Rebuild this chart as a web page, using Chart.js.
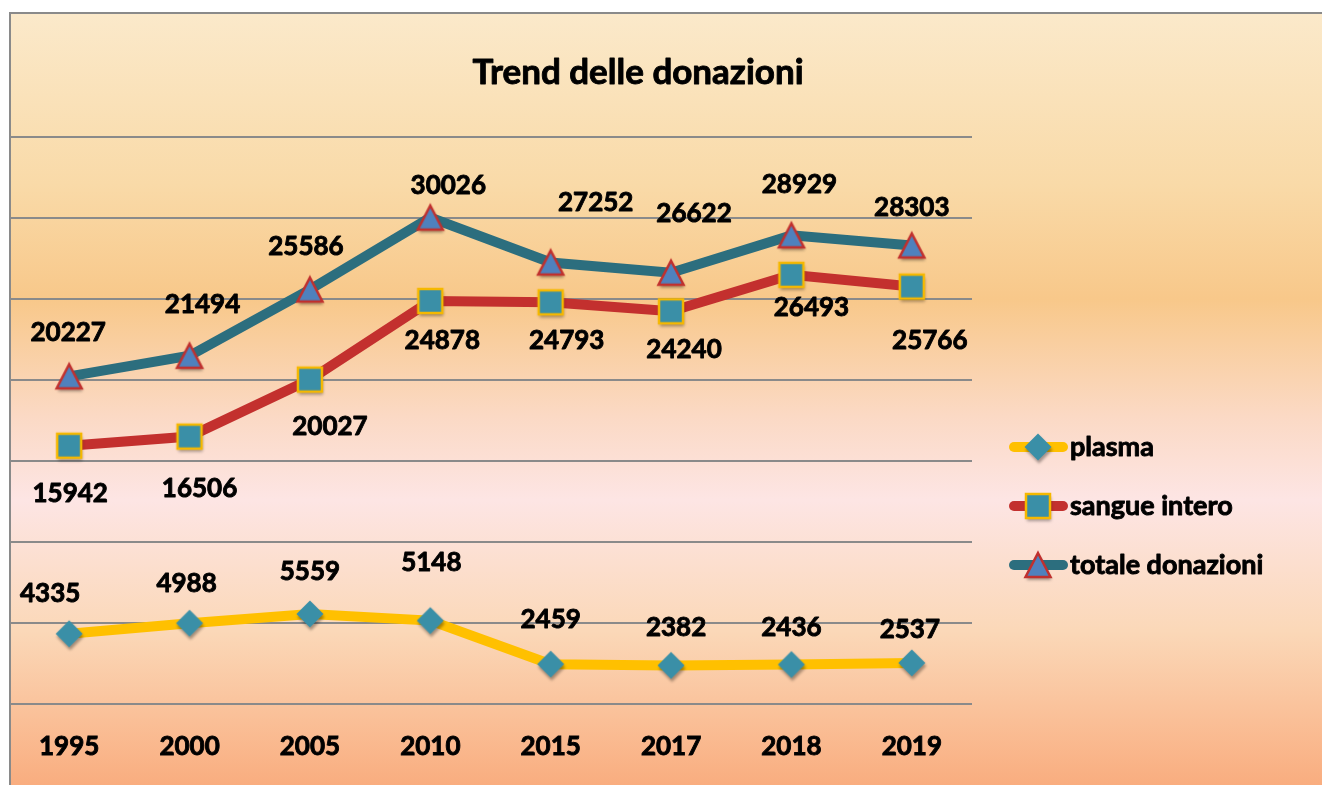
<!DOCTYPE html>
<html>
<head>
<meta charset="utf-8">
<script src="https://cdn.jsdelivr.net/npm/chart.js@4.4.0/dist/chart.umd.min.js"></script>
<style>
  body { margin: 0; background: #fff; }
  #bg {
    position: absolute; left: 9px; top: 12px; width: 1313px; height: 773px;
    box-sizing: border-box;
    border-left: 2px solid #8a8a8a; border-top: 2px solid #8a8a8a;
    background: linear-gradient(to bottom, #fbe9ca 0%, #f9daa8 22%, #f8c88a 37%, #fbd9c4 52%, #fde5e4 63%, #fbd8b8 80%, #f9ad7f 100%);
  }
  #wrap { position: absolute; left: 0; top: 0; width: 1322px; height: 785px; }
</style>
</head>
<body>
<div id="bg"></div>
<div id="wrap"><canvas id="chartCanvas" width="1322" height="785"></canvas></div>
<script>
// --- data ---
const years = ["1995", "2000", "2005", "2010", "2015", "2017", "2018", "2019"];
const plasma = [4335, 4988, 5559, 5148, 2459, 2382, 2436, 2537];
const sangueIntero = [15942, 16506, 20027, 24878, 24793, 24240, 26493, 25766];
const totaleDonazioni = [20227, 21494, 25586, 30026, 27252, 26622, 28929, 28303];
const seriesNames = ["plasma", "sangue intero", "totale donazioni"];

const FONT = "Lato, 'Open Sans', sans-serif";

// fake a heavier bold (original uses Calibri bold)
function boldText(ctx, text, x, y) {
  ctx.lineWidth = 0.9;
  ctx.strokeStyle = "#000";
  ctx.lineJoin = "round";
  ctx.strokeText(text, x, y);
  ctx.fillText(text, x, y);
}

// --- marker images (with a soft shadow like the original) ---
function makeMarker(draw) {
  const c = document.createElement("canvas");
  c.width = 40; c.height = 40;
  const ctx = c.getContext("2d");
  ctx.shadowColor = "rgba(0,0,0,0.35)";
  ctx.shadowBlur = 3;
  ctx.shadowOffsetX = 1;
  ctx.shadowOffsetY = 3;
  draw(ctx, 20, 20);
  return c;
}

const diamond = makeMarker((ctx, x, y) => {
  ctx.beginPath();
  ctx.moveTo(x, y - 13.5);
  ctx.lineTo(x + 13.5, y);
  ctx.lineTo(x, y + 13.5);
  ctx.lineTo(x - 13.5, y);
  ctx.closePath();
  ctx.fillStyle = "#3a8fa7";
  ctx.fill();
});

const square = makeMarker((ctx, x, y) => {
  ctx.fillStyle = "#3a8fa7";
  ctx.fillRect(x - 12, y - 12, 24, 24);
  ctx.shadowColor = "transparent";
  ctx.lineWidth = 2.5;
  ctx.strokeStyle = "#f5b800";
  ctx.strokeRect(x - 12, y - 12, 24, 24);
});

const triangle = makeMarker((ctx, x, y) => {
  ctx.beginPath();
  ctx.moveTo(x, y - 12);
  ctx.lineTo(x + 12.5, y + 12);
  ctx.lineTo(x - 12.5, y + 12);
  ctx.closePath();
  ctx.fillStyle = "#4f81bd";
  ctx.fill();
  ctx.shadowColor = "transparent";
  ctx.lineWidth = 2.5;
  ctx.lineJoin = "miter";
  ctx.strokeStyle = "#c0302e";
  ctx.stroke();
});

// --- custom plugins: title, value labels, legend ---
const titlePlugin = {
  id: "customTitle",
  afterDraw(chart, args, opts) {
    const ctx = chart.ctx;
    ctx.save();
    ctx.font = `bold 35px ${FONT}`;
    ctx.fillStyle = "#000";
    ctx.textAlign = "center";
    ctx.textBaseline = "middle";
    boldText(ctx, opts.text, opts.x, opts.y);
    ctx.restore();
  }
};

const valueLabels = {
  id: "valueLabels",
  afterDatasetsDraw(chart, args, opts) {
    const ctx = chart.ctx;
    ctx.save();
    ctx.font = `bold 26px ${FONT}`;
    ctx.fillStyle = "#000";
    ctx.textAlign = "center";
    ctx.textBaseline = "middle";
    chart.data.datasets.forEach((ds, i) => {
      const meta = chart.getDatasetMeta(i);
      const dx = opts.dx[i], dy = opts.dy[i];
      meta.data.forEach((pt, j) => {
        boldText(ctx, String(ds.data[j]), pt.x + dx[j], pt.y + dy[j]);
      });
    });
    ctx.restore();
  }
};

const lineLegend = {
  id: "lineLegend",
  afterDraw(chart, args, opts) {
    const ctx = chart.ctx;
    ctx.save();
    chart.data.datasets.forEach((ds, i) => {
      const y = opts.top + i * opts.gap;
      ctx.beginPath();
      ctx.moveTo(opts.left + 5, y);
      ctx.lineTo(opts.left + 54, y);
      ctx.lineWidth = 10;
      ctx.lineCap = "round";
      ctx.strokeStyle = ds.borderColor;
      ctx.stroke();
      const m = ds.pointStyle;
      ctx.drawImage(m, opts.left + 29 - m.width / 2, y - m.height / 2);
      ctx.font = `bold 27px ${FONT}`;
      ctx.fillStyle = "#000";
      ctx.textAlign = "left";
      ctx.textBaseline = "middle";
      boldText(ctx, ds.label, opts.left + 61, y);
    });
    ctx.restore();
  }
};

const canvas = document.getElementById("chartCanvas");
new Chart(canvas, {
  type: "line",
  data: {
    labels: years,
    datasets: [
      { label: seriesNames[0], data: plasma, borderColor: "#ffc000", borderWidth: 10, pointStyle: diamond, tension: 0 },
      { label: seriesNames[1], data: sangueIntero, borderColor: "#c3302e", borderWidth: 10, pointStyle: square, tension: 0 },
      { label: seriesNames[2], data: totaleDonazioni, borderColor: "#2c6e7e", borderWidth: 10, pointStyle: triangle, tension: 0 }
    ]
  },
  options: {
    responsive: false,
    devicePixelRatio: 1,
    animation: false,
    events: [],
    layout: { autoPadding: false, padding: { left: 9, right: 350, top: 137, bottom: 0 } },
    plugins: {
      legend: { display: false },
      tooltip: { enabled: false },
      customTitle: { text: "Trend delle donazioni", x: 638, y: 73 },
      valueLabels: {
        dx: [
          [-19, -3, 0, 1, 0, 5, 0, -2],
          [1, 10, 20, 12, 16, 13, 20, 18],
          [-1, 13, -4, 18, 45, 23, 8, 0]
        ],
        dy: [
          [-40, -40, -42, -58, -45, -38, -37, -33],
          [48, 52, 47, 40, 38, 38, 33, 54],
          [-44, -51, -43, -32, -60, -59, -51, -38]
        ]
      },
      lineLegend: { left: 1009, top: 447, gap: 59 }
    },
    scales: {
      x: {
        offset: true,
        grid: { display: false },
        border: { display: false },
        ticks: {
          color: "#000", font: { family: FONT, size: 26, weight: "bold" }, padding: 19,
          textStrokeColor: "#000", textStrokeWidth: 0.9
        },
        afterFit: (s) => { s.height = 81; }
      },
      y: {
        min: 0, max: 35000,
        grid: { color: "#8a8a8a", lineWidth: 2, drawTicks: false },
        border: { display: false },
        ticks: { display: false, stepSize: 5000 },
        afterFit: (s) => { s.width = 0; }
      }
    }
  },
  plugins: [titlePlugin, valueLabels, lineLegend]
});
</script>
</body>
</html>
